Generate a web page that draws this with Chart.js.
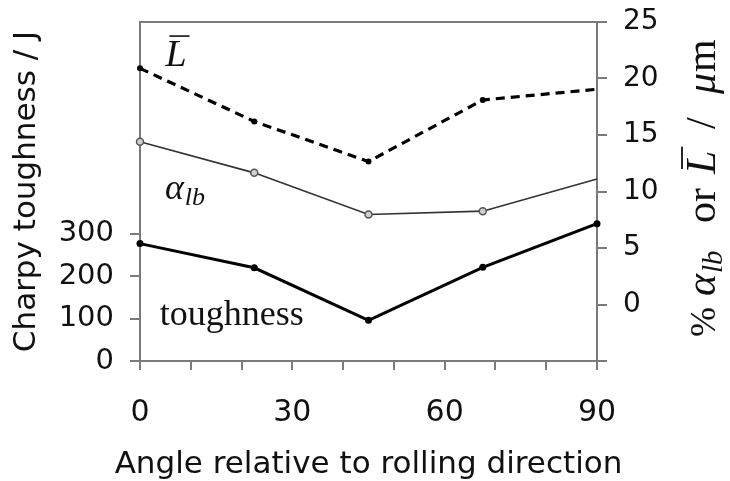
<!DOCTYPE html>
<html><head><meta charset="utf-8">
<script src="https://cdn.jsdelivr.net/npm/chart.js@4/dist/chart.umd.min.js"></script>
<style>html,body{margin:0;padding:0;background:#fff}#wrap{width:730px;height:481px}</style>
</head><body><div id="wrap"><canvas id="c" width="730" height="481"></canvas></div>
<script>
// ---- data ----
const angles = [0, 22.5, 45, 67.5, 90];
const toughness = [277, 220, 96, 221, 324];      // J, left axis
const alphaLb = [14.4, 11.65, 7.97, 8.26, 11.1];  // %, right axis
const lBar = [20.9, 16.2, 12.65, 18.1, 19.05];    // µm, right axis
const xTicks = [0, 10, 20, 30, 40, 50, 60, 70, 80, 90];
const xTickLabels = [0, 30, 60, 90];
const leftTicks = [0, 100, 200, 300];
const rightTicks = [-5, 0, 5, 10, 15, 20, 25];
const rightTickLabels = [0, 5, 10, 15, 20, 25];
const xTitle = 'Angle relative to rolling direction';
const yTitle = 'Charpy toughness / J';

const SANS = '"DejaVu Sans", sans-serif';
const SERIF = '"Liberation Serif", serif';
const AXIS = '#7a7a7a';
const INK = '#111';

function pts(ys){ return angles.map((a,i)=>({x:a, y:ys[i]})); }

// annotation anchors (data space)
const notes = [
  {text:'toughness', x:3.9, y:85, axis:'y'},
  {text:'α', sub:'lb', x:4.9, y:9.3, axis:'y1'},
  {text:'L', over:true, x:5.0, y:21.1, axis:'y1'}
];

const decor = {
  id:'decor',
  afterDraw(chart){
    const ctx = chart.ctx, a = chart.chartArea;
    ctx.save();
    // top frame line
    ctx.strokeStyle = AXIS; ctx.lineWidth = 2;
    ctx.beginPath(); ctx.moveTo(a.left, a.top); ctx.lineTo(a.right, a.top); ctx.stroke();
    // x axis title (drawn without width squeezing)
    ctx.fillStyle = INK; ctx.textAlign = 'center'; ctx.textBaseline = 'middle';
    ctx.font = '31px ' + SANS;
    ctx.fillText(xTitle, (a.left + a.right) / 2, a.bottom + 104);
    // annotations
    ctx.textBaseline = 'alphabetic'; ctx.textAlign = 'left';
    const xs = chart.scales.x;
    notes.forEach(n=>{
      const px = xs.getPixelForValue(n.x), py = chart.scales[n.axis].getPixelForValue(n.y);
      if (n.sub){
        ctx.font = 'italic 36px ' + SERIF;
        ctx.fillText(n.text, px, py);
        const w = ctx.measureText(n.text).width;
        ctx.font = 'italic 26px ' + SERIF;
        ctx.fillText(n.sub, px + w + 1, py + 6);
      } else if (n.over){
        ctx.font = 'italic 38px ' + SERIF;
        ctx.fillText(n.text, px, py);
        const w = ctx.measureText(n.text).width;
        ctx.strokeStyle = INK; ctx.lineWidth = 1.6;
        ctx.beginPath(); ctx.moveTo(px + 4, py - 30); ctx.lineTo(px + w + 3, py - 30); ctx.stroke();
      } else {
        ctx.font = '36px ' + SERIF;
        ctx.fillText(n.text, px, py);
      }
    });
    // right axis title, rotated, reading bottom -> top
    ctx.translate(a.right + 118, a.bottom - 24);
    ctx.rotate(-Math.PI/2);
    const big = '42px ' + SERIF, bigI = 'italic 42px ' + SERIF, sub = 'italic 29px ' + SERIF;
    const parts = [
      {t:'%', f:'36px ' + SERIF, s:0},
      {t:'α', f:bigI, s:41},
      {t:'lb', f:sub, after:true, dy:7},
      {t:'or', f:big, s:114},
      {t:'L', f:bigI, s:163, over:true},
      {t:'/', f:big, s:208},
      {t:'μ', f:bigI, s:243},
      {t:'m', f:big, after:true}
    ];
    let cursor = 0;
    parts.forEach(p=>{
      ctx.font = p.f;
      const s = p.after ? cursor + 1 : p.s;
      ctx.fillText(p.t, s, p.dy || 0);
      const w = ctx.measureText(p.t).width;
      cursor = s + w;
      if (p.over){
        ctx.strokeStyle = INK; ctx.lineWidth = 1.8;
        ctx.beginPath(); ctx.moveTo(s + 5, -33); ctx.lineTo(s + w + 4, -33); ctx.stroke();
      }
    });
    ctx.restore();
  }
};

const noPadV = s => { s.paddingTop = 0; s.paddingBottom = 0; };

new Chart(document.getElementById('c'), {
  type: 'line',
  data: {
    datasets: [
      {label:'toughness', data: pts(toughness), yAxisID:'y', borderColor:'#000', backgroundColor:'#000',
       borderWidth:3, pointRadius:3.5, pointBorderWidth:0, clip:false, tension:0},
      {label:'alpha_lb', data: pts(alphaLb), yAxisID:'y1', borderColor:'#333', backgroundColor:'#cfcfcf',
       borderWidth:1.6, pointRadius:[3.5,3.5,3.5,3.5,0], pointBorderColor:'#555', pointBorderWidth:1.5, clip:false, tension:0},
      {label:'Lbar', data: pts(lBar), yAxisID:'y1', borderColor:'#000', backgroundColor:'#000',
       borderWidth:3.2, borderDash:[9,6], pointRadius:[3,3,3,3,0], pointBorderWidth:0, clip:false, tension:0}
    ]
  },
  options: {
    responsive:false, animation:false, devicePixelRatio:1,
    layout:{padding:{top:22, left:0, right:0, bottom:0}},
    plugins:{legend:{display:false}, tooltip:{enabled:false}},
    scales:{
      x:{type:'linear', position:'bottom', min:0, max:90,
         afterBuildTicks:s=>{ s.ticks = xTicks.map(v=>({value:v})); },
         afterFit:s=>{ s.height = 120; s.paddingLeft = 0; s.paddingRight = 0; },
         ticks:{autoSkip:false, maxRotation:0, padding:25, color:INK, font:{family:SANS, size:30},
                callback:v=> xTickLabels.includes(v) ? String(v) : ''},
         grid:{drawOnChartArea:false, drawTicks:true, tickLength:9, color:AXIS, lineWidth:2},
         border:{display:true, color:AXIS, width:2},
         title:{display:false}},
      y:{type:'linear', position:'left', min:0, max:800,
         afterBuildTicks:s=>{ s.ticks = leftTicks.map(v=>({value:v})); },
         afterFit:s=>{ s.width = 140; noPadV(s); },
         ticks:{padding:16, color:INK, font:{family:SANS, size:29}},
         grid:{drawOnChartArea:false, drawTicks:true, tickLength:10, color:AXIS, lineWidth:2},
         border:{display:true, color:AXIS, width:2},
         title:{display:true, text:yTitle, color:INK,
                font:{family:SANS, size:31}, padding:{top:8, bottom:0}}},
      y1:{type:'linear', position:'right', min:-5, max:25,
         afterBuildTicks:s=>{ s.ticks = rightTicks.map(v=>({value:v})); },
         afterFit:s=>{ s.width = 133; noPadV(s); },
         ticks:{padding:16, color:INK, font:{family:SANS, size:28},
                callback:v=> rightTickLabels.includes(v) ? String(v) : ''},
         grid:{drawOnChartArea:false, drawTicks:true, tickLength:10, color:AXIS, lineWidth:2},
         border:{display:true, color:AXIS, width:2}}
    }
  },
  plugins:[decor]
});
</script>
</body></html>
